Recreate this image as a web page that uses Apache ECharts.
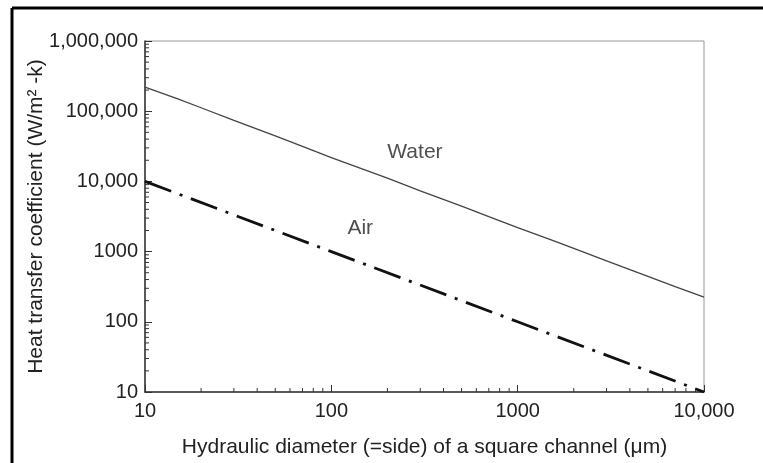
<!DOCTYPE html>
<html>
<head>
<meta charset="utf-8">
<script src="https://cdn.jsdelivr.net/npm/echarts@6/dist/echarts.min.js"></script>
<style>html,body{margin:0;padding:0;background:#fff}#c{width:763px;height:463px}</style>
</head>
<body>
<div id="c"></div>
<script>
// Data
const waterD = [10, 15, 20, 30, 50, 70, 100, 150, 200, 300, 500, 700, 1000, 1500, 2000, 3000, 5000, 7000, 10000];
const waterH = [221000, 150000, 112000, 74000, 44500, 31500, 21800, 14700, 11100, 7350, 4450, 3150, 2200, 1480, 1110, 740, 445, 318, 225];
const airD = [10, 100, 1000, 10000];
const airH = [10000, 1000, 100, 10];
const xTickLabels = {10: '10', 100: '100', 1000: '1000', 10000: '10,000'};
const yTickLabels = {10: '10', 100: '100', 1000: '1000', 10000: '10,000', 100000: '100,000', 1000000: '1,000,000'};
const xMinor = [20,30,40,50,60,70,80,90,200,300,400,500,600,700,800,900,2000,3000,4000,5000,6000,7000,8000,9000];
const yMinor = [20,30,40,50,60,70,80,90,200,300,400,500,600,700,800,900,2000,3000,4000,5000,6000,7000,8000,9000,
  20000,30000,40000,50000,60000,70000,80000,90000,200000,300000,400000,500000,600000,700000,800000,900000];
const curveLabels = [{name: 'Water', x: 281, y: 26200}, {name: 'Air', x: 143, y: 2170}];

const font = "'Liberation Sans', Arial, sans-serif";
const txt = '#222';
const chart = echarts.init(document.getElementById('c'), null, {renderer: 'canvas'});

function minorTick(dir) {
  return function (params, api) {
    const p = api.coord([api.value(0), api.value(1)]);
    const len = 4;
    const shape = dir === 'x'
      ? {x1: p[0], y1: p[1], x2: p[0], y2: p[1] - len}
      : {x1: p[0], y1: p[1], x2: p[0] + len, y2: p[1]};
    return {type: 'line', shape: shape, style: {stroke: '#333', lineWidth: 1}};
  };
}

chart.setOption({
  animation: false,
  backgroundColor: '#fff',
  graphic: [
    {type: 'line', shape: {x1: 12, y1: 8, x2: 763, y2: 8}, style: {stroke: '#000', lineWidth: 3}},
    {type: 'line', shape: {x1: 12, y1: 8, x2: 12, y2: 463}, style: {stroke: '#000', lineWidth: 3}}
  ],
  grid: {left: 145, top: 41, right: 59, bottom: 71, show: true, borderColor: '#999', borderWidth: 1, backgroundColor: 'transparent'},
  xAxis: {
    type: 'log', logBase: 10, min: 10, max: 10000,
    name: 'Hydraulic diameter (=side) of a square channel (μm)',
    nameLocation: 'middle', nameGap: 45, nameMoveOverlap: false,
    nameTextStyle: {fontFamily: font, fontSize: 21, color: txt},
    axisLine: {lineStyle: {color: '#333', width: 1.5}},
    axisTick: {inside: true, length: 7, lineStyle: {color: '#333'}},
    splitLine: {show: false},
    axisLabel: {fontFamily: font, fontSize: 20, color: txt, margin: 9,
      formatter: v => xTickLabels[Math.round(v)] || ''}
  },
  yAxis: {
    type: 'log', logBase: 10, min: 10, max: 1000000,
    name: 'Heat transfer coefficient (W/m² -k)',
    nameLocation: 'middle', nameGap: 98, nameMoveOverlap: false,
    nameTextStyle: {fontFamily: font, fontSize: 21, color: txt},
    axisLine: {lineStyle: {color: '#333', width: 1.5}},
    axisTick: {inside: true, length: 7, lineStyle: {color: '#333'}},
    splitLine: {show: false},
    axisLabel: {fontFamily: font, fontSize: 20, color: txt, margin: 7,
      formatter: v => yTickLabels[Math.round(v)] || ''}
  },
  series: [
    {type: 'line', name: 'Water', data: waterD.map((d, i) => [d, waterH[i]]), showSymbol: false,
      lineStyle: {color: '#444', width: 1.3}, z: 3},
    {type: 'line', name: 'Air', data: airD.map((d, i) => [d, airH[i]]), showSymbol: false,
      lineStyle: {color: '#111', width: 2.8, type: [28, 9, 3, 9]}, z: 3},
    {type: 'custom', renderItem: minorTick('x'), data: xMinor.map(v => [v, 10]), clip: false, silent: true, z: 4},
    {type: 'custom', renderItem: minorTick('y'), data: yMinor.map(v => [10, v]), clip: false, silent: true, z: 4},
    {type: 'scatter', symbolSize: 0, data: curveLabels.map(l => ({name: l.name, value: [l.x, l.y]})),
      label: {show: true, position: 'inside', formatter: '{b}', fontFamily: font, fontSize: 21, color: txt}, silent: true}
  ]
});
</script>
</body>
</html>
